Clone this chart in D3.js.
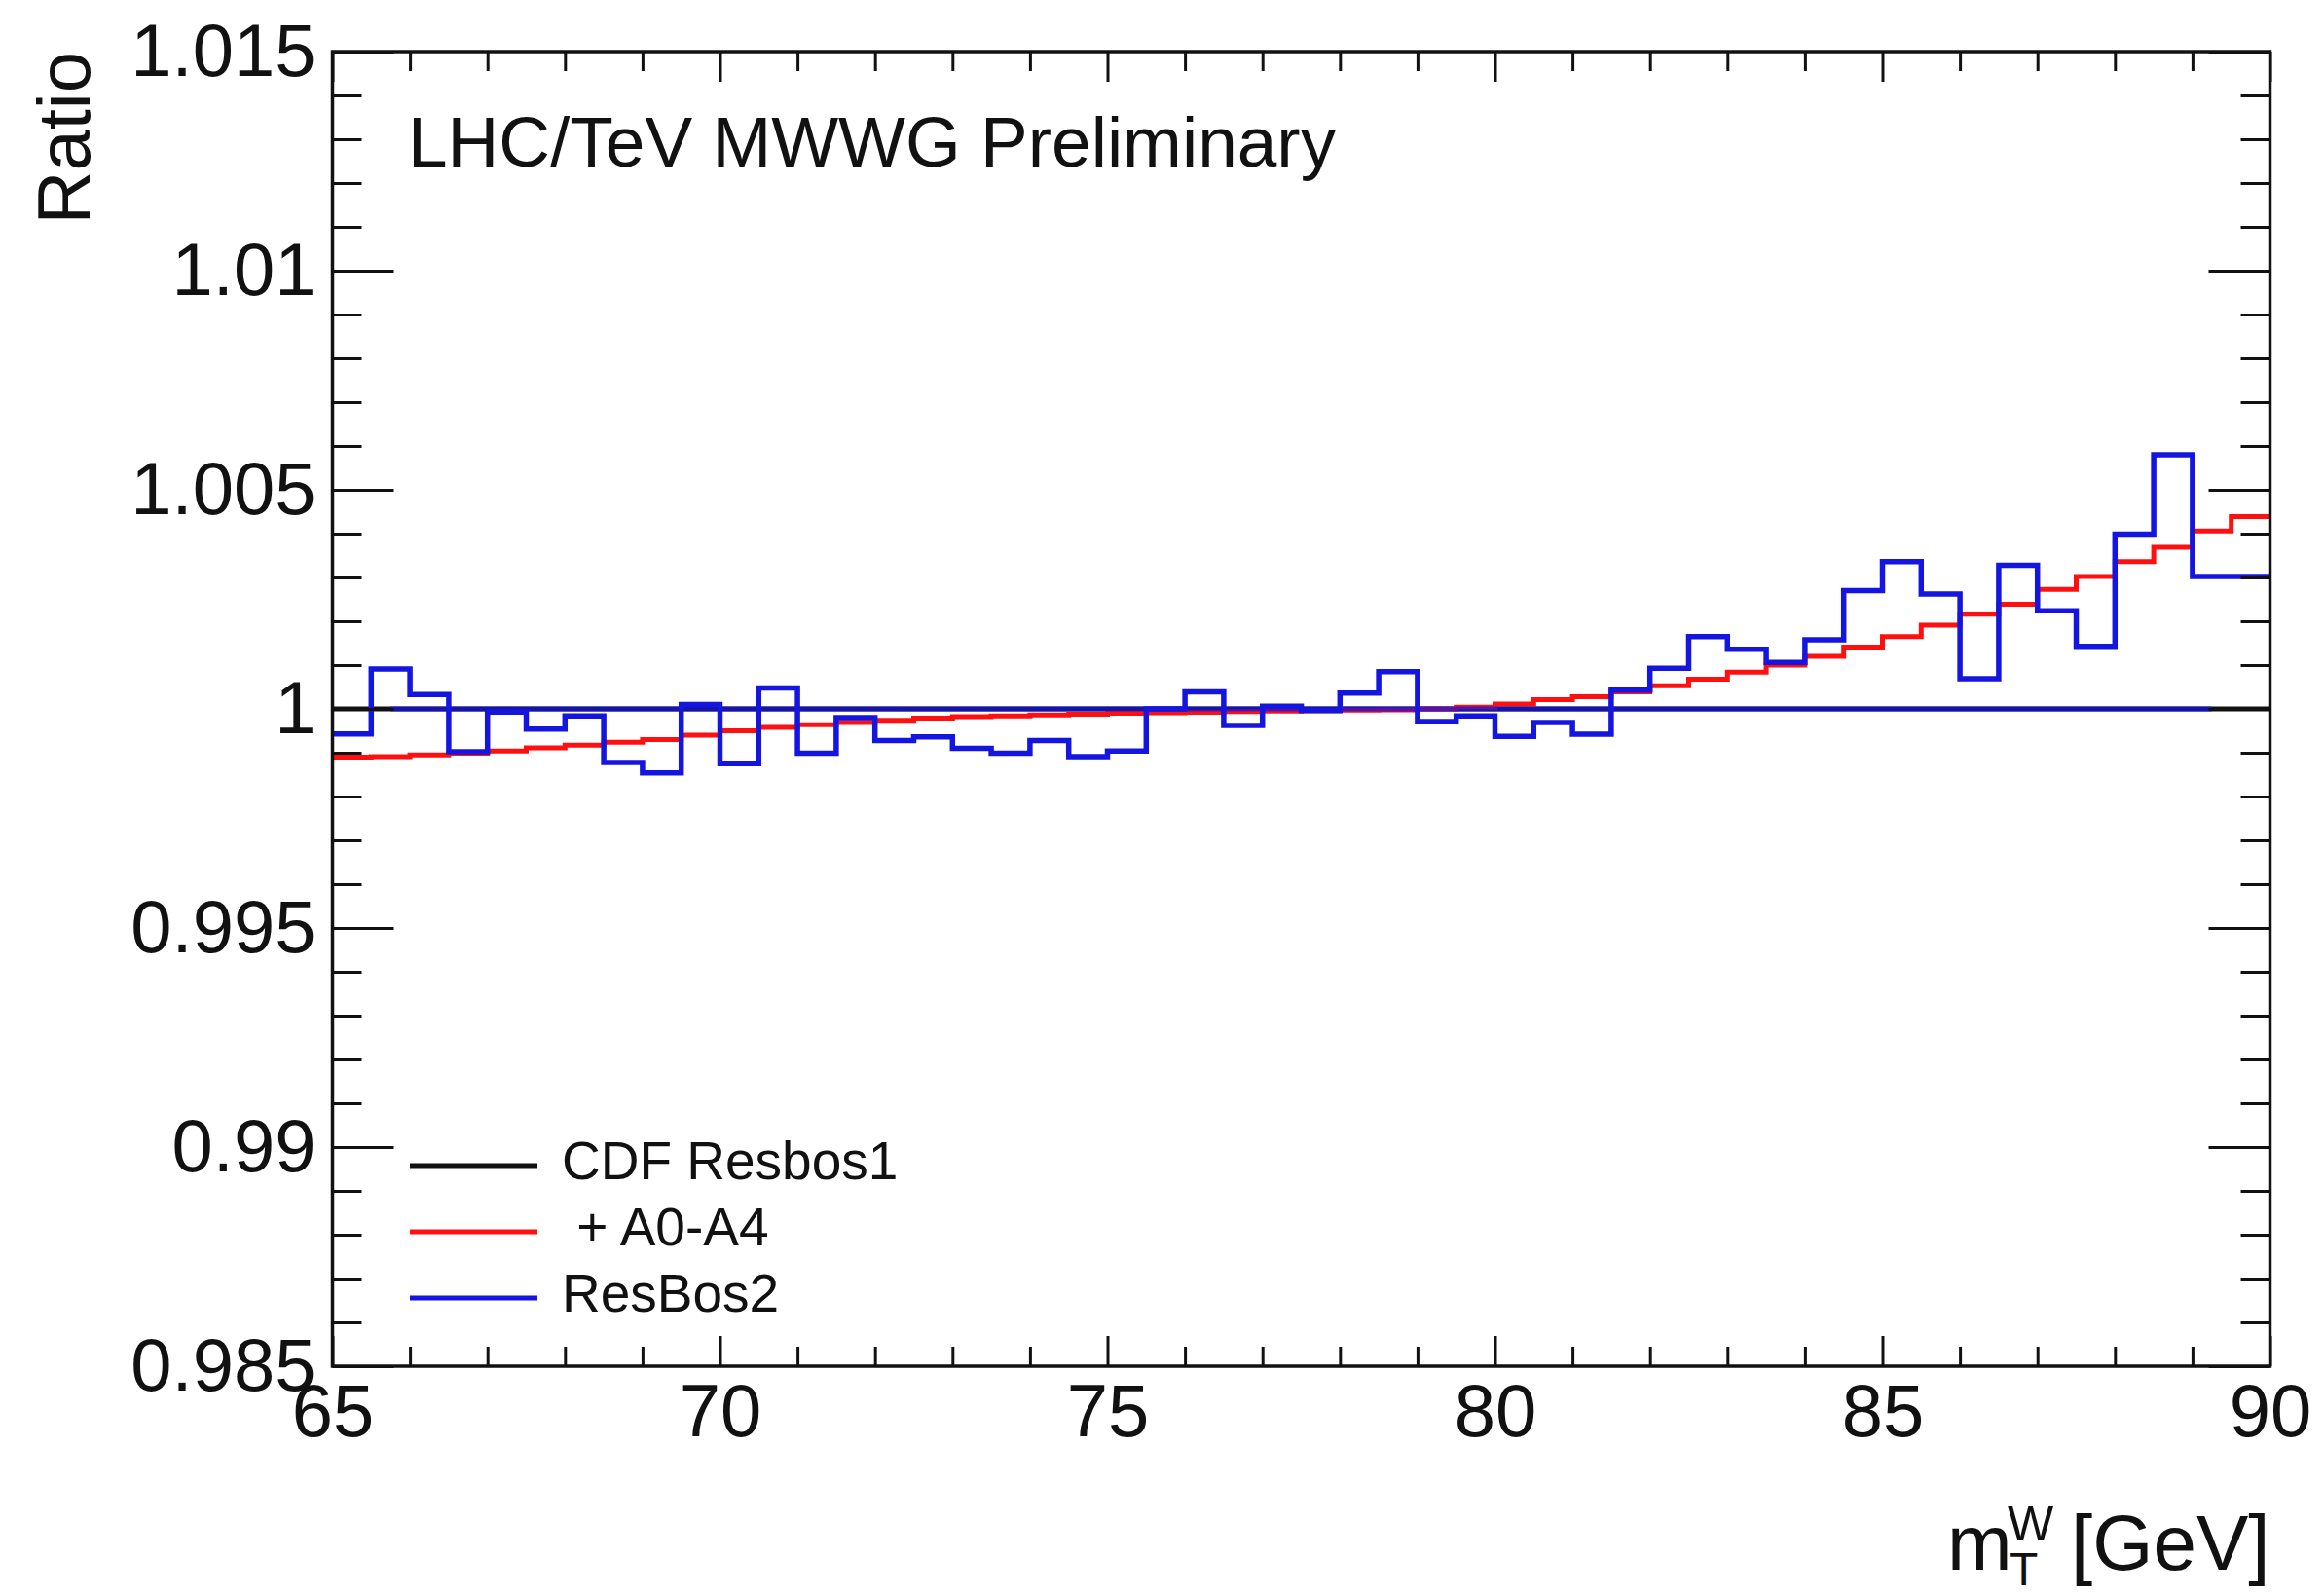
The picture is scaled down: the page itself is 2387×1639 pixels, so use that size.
<!DOCTYPE html>
<html>
<head>
<meta charset="utf-8">
<script src="https://cdn.jsdelivr.net/npm/d3@7"></script>
<style>
  body { margin: 0; background: #fff; }
  svg text { font-family: "Liberation Sans", Arial, Helvetica, sans-serif; fill: #111; }
</style>
</head>
<body>
<div id="graph"></div>
<script>
// chart data
var binEdges = [65, 65.5, 66, 66.5, 67, 67.5, 68, 68.5, 69, 69.5,
  70, 70.5, 71, 71.5, 72, 72.5, 73, 73.5, 74, 74.5,
  75, 75.5, 76, 76.5, 77, 77.5, 78, 78.5, 79, 79.5,
  80, 80.5, 81, 81.5, 82, 82.5, 83, 83.5, 84, 84.5,
  85, 85.5, 86, 86.5, 87, 87.5, 88, 88.5, 89, 89.5, 90];

var resbos2 = [0.99943, 1.00091, 1.00033, 0.99902, 0.99993, 0.99954, 0.99984, 0.99878, 0.99854, 1.00010,
  0.99875, 1.00048, 0.99899, 0.99980, 0.99928, 0.99936, 0.99910, 0.99899, 0.99928, 0.99891,
  0.99904, 1.00000, 1.00039, 0.99962, 1.00006, 0.99996, 1.00036, 1.00085, 0.99971, 0.99984,
  0.99937, 0.99969, 0.99942, 1.00043, 1.00093, 1.00165, 1.00136, 1.00106, 1.00158, 1.00270,
  1.00336, 1.00262, 1.00069, 1.00328, 1.00224, 1.00143, 1.00399, 1.00580, 1.00302, 1.00302];

var a0a4 = [0.99890, 0.99891, 0.99895, 0.99899, 0.99904, 0.99911, 0.99917, 0.99924, 0.99930, 0.99940,
  0.99950, 0.99958, 0.99964, 0.99969, 0.99974, 0.99979, 0.99982, 0.99984, 0.99986, 0.99988,
  0.99990, 0.99991, 0.99992, 0.99994, 0.99995, 0.99996, 0.99997, 0.99998, 1.00000, 1.00004,
  1.00011, 1.00021, 1.00028, 1.00039, 1.00053, 1.00068, 1.00084, 1.00100, 1.00120, 1.00141,
  1.00165, 1.00191, 1.00216, 1.00239, 1.00273, 1.00302, 1.00336, 1.00369, 1.00406, 1.00439];

var cdfRatio = 1;            // CDF Resbos1 reference line
var flatBlueRange = [65.75, 89.25];  // blue line lying on the ratio = 1 line

var xMajor = [65, 70, 75, 80, 85, 90];
var xMinor = [66, 67, 68, 69, 71, 72, 73, 74, 76, 77, 78, 79, 81, 82, 83, 84, 86, 87, 88, 89];
var yMajor = [0.985, 0.99, 0.995, 1, 1.005, 1.01, 1.015];
var yMajorLabels = ['0.985', '0.99', '0.995', '1', '1.005', '1.01', '1.015'];
var yMinor = [0.986, 0.987, 0.988, 0.989, 0.991, 0.992, 0.993, 0.994, 0.996, 0.997, 0.998, 0.999,
  1.001, 1.002, 1.003, 1.004, 1.006, 1.007, 1.008, 1.009, 1.011, 1.012, 1.013, 1.014];

var legendLabels = ['CDF Resbos1', ' + A0-A4', 'ResBos2'];
var legendColors = ['#111111', '#ff1010', '#1515e0'];

// layout
var chart_width = 2387;
var chart_height = 1639;
var plotLeft = 341.5, plotRight = 2331.5, plotTop = 53, plotBottom = 1403;

var x_scale = d3.scaleLinear().domain([65, 90]).range([plotLeft, plotRight]);
var y_scale = d3.scaleLinear().domain([0.985, 1.015]).range([plotBottom, plotTop]);

var svg = d3.select('#graph')
  .append('svg')
  .attr('width', chart_width)
  .attr('height', chart_height);

svg.append('rect')
  .attr('width', chart_width)
  .attr('height', chart_height)
  .attr('fill', '#fff');

// step-histogram path from bin contents
var histPath = function (values) {
  var pts = [];
  values.forEach(function (v, i) {
    pts.push([binEdges[i], v]);
    pts.push([binEdges[i + 1], v]);
  });
  return d3.line()
    .x(function (d) { return x_scale(d[0]); })
    .y(function (d) { return y_scale(d[1]); })(pts);
};

var plot = svg.append('g');

// CDF Resbos1 : flat line at 1
plot.append('line')
  .attr('x1', x_scale(65)).attr('x2', x_scale(90))
  .attr('y1', y_scale(cdfRatio)).attr('y2', y_scale(cdfRatio))
  .attr('stroke', legendColors[0])
  .attr('stroke-width', 5);

// + A0-A4
plot.append('path')
  .attr('d', histPath(a0a4))
  .attr('fill', 'none')
  .attr('stroke', legendColors[1])
  .attr('stroke-width', 5);

// ResBos2
plot.append('path')
  .attr('d', histPath(resbos2))
  .attr('fill', 'none')
  .attr('stroke', legendColors[2])
  .attr('stroke-width', 5.5);

plot.append('line')
  .attr('x1', x_scale(flatBlueRange[0])).attr('x2', x_scale(flatBlueRange[1]))
  .attr('y1', y_scale(cdfRatio)).attr('y2', y_scale(cdfRatio))
  .attr('stroke', legendColors[2])
  .attr('stroke-opacity', 0.75)
  .attr('stroke-width', 5);

// axes (ticks point inwards, ROOT style)
var styleAxis = function (g) {
  g.select('.domain').remove();
  g.selectAll('.tick line').attr('stroke', '#111').attr('stroke-width', 3);
  g.selectAll('.tick text').attr('font-size', 76).attr('fill', '#111');
};

svg.append('g')
  .attr('transform', 'translate(0,' + plotBottom + ')')
  .call(d3.axisBottom(x_scale).tickValues(xMajor).tickSize(-31).tickPadding(18).tickFormat(d3.format('d')))
  .call(styleAxis);
svg.append('g')
  .attr('transform', 'translate(0,' + plotBottom + ')')
  .call(d3.axisBottom(x_scale).tickValues(xMinor).tickSize(-20).tickFormat(''))
  .call(styleAxis);
svg.append('g')
  .attr('transform', 'translate(0,' + plotTop + ')')
  .call(d3.axisTop(x_scale).tickValues(xMajor).tickSize(-31).tickFormat(''))
  .call(styleAxis);
svg.append('g')
  .attr('transform', 'translate(0,' + plotTop + ')')
  .call(d3.axisTop(x_scale).tickValues(xMinor).tickSize(-20).tickFormat(''))
  .call(styleAxis);

svg.append('g')
  .attr('transform', 'translate(' + plotLeft + ',0)')
  .call(d3.axisLeft(y_scale).tickValues(yMajor).tickSize(-63).tickPadding(17)
    .tickFormat(function (d, i) { return yMajorLabels[i]; }))
  .call(styleAxis);
svg.append('g')
  .attr('transform', 'translate(' + plotLeft + ',0)')
  .call(d3.axisLeft(y_scale).tickValues(yMinor).tickSize(-30).tickFormat(''))
  .call(styleAxis);
svg.append('g')
  .attr('transform', 'translate(' + plotRight + ',0)')
  .call(d3.axisRight(y_scale).tickValues(yMajor).tickSize(-63).tickFormat(''))
  .call(styleAxis);
svg.append('g')
  .attr('transform', 'translate(' + plotRight + ',0)')
  .call(d3.axisRight(y_scale).tickValues(yMinor).tickSize(-30).tickFormat(''))
  .call(styleAxis);

// frame
svg.append('rect')
  .attr('x', plotLeft).attr('y', plotTop)
  .attr('width', plotRight - plotLeft)
  .attr('height', plotBottom - plotTop)
  .attr('fill', 'none')
  .attr('stroke', '#111')
  .attr('stroke-width', 3.5);

// axis titles
svg.append('text')
  .attr('transform', 'translate(92,' + plotTop + ') rotate(-90)')
  .attr('text-anchor', 'end')
  .attr('font-size', 76)
  .text('Ratio');

svg.append('text')
  .attr('x', 2000)
  .attr('y', 1612)
  .attr('font-size', 80)
  .text('m');
svg.append('text')
  .attr('x', 2062).attr('y', 1582)
  .attr('font-size', 50)
  .text('W');
svg.append('text')
  .attr('x', 2064).attr('y', 1628)
  .attr('font-size', 48)
  .text('T');
svg.append('text')
  .attr('x', plotRight)
  .attr('y', 1612)
  .attr('text-anchor', 'end')
  .attr('font-size', 80)
  .text('[GeV]');

// label
svg.append('text')
  .attr('x', 419)
  .attr('y', 171)
  .attr('font-size', 73)
  .text('LHC/TeV MWWG Preliminary');

// legend
var legend = svg.selectAll('.legend')
  .data(legendLabels)
  .enter()
  .append('g')
  .attr('class', 'legend')
  .attr('transform', function (d, i) {
    return 'translate(421,' + (1197 + i * 68) + ')';
  });

legend.append('line')
  .attr('x1', 0).attr('x2', 131)
  .attr('y1', 0).attr('y2', 0)
  .attr('stroke', function (d, i) { return legendColors[i]; })
  .attr('stroke-width', 5);

legend.append('text')
  .attr('x', 156)
  .attr('y', 14)
  .attr('font-size', 55)
  .style('white-space', 'pre')
  .text(function (d) { return d; });
</script>
</body>
</html>
